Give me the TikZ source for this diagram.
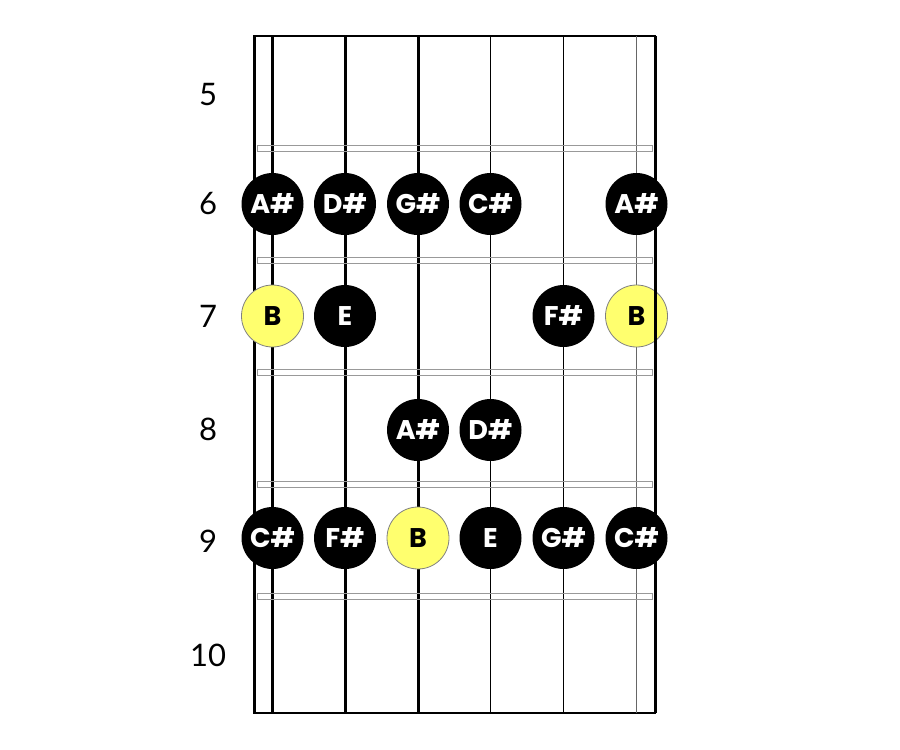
\documentclass[tikz,border=0pt]{standalone}
\usepackage{fontspec}
\newfontfamily\notefont{Poppins}
\newfontfamily\fretfont{Lato}
\usetikzlibrary{positioning}
\definecolor{rootyellow}{HTML}{FFFF6E}
\tikzstyle{note} = [circle, minimum size=31pt, inner sep=0pt, fill=black, text=white, font=\notefont\bfseries\fontsize{13.5}{13.5}\selectfont]
\tikzstyle{root} = [note, fill=rootyellow, draw=gray, line width=0.4pt, text=black]
\tikzstyle{fretnum} = [font=\fretfont\fontsize{15.5}{15.5}\selectfont, inner sep=0pt]
\tikzstyle{fretbar} = [draw=gray!80, line width=0.5pt]

\begin{document}
\begin{tikzpicture}[x=0.5pt, y=-0.5pt]
\useasboundingbox (0,0) rectangle (900,750);
%琴格框
\draw[line width=1.3pt] (655.5,36) -- (254.5,36) -- (254.5,713) -- (655.5,713);
%琴弦
\draw[line width=1.5pt] (272.5,36) -- (272.5,713);
\draw[line width=1.5pt] (345,36) -- (345,713);
\draw[line width=1.5pt] (418,36) -- (418,713);
\draw[line width=0.85pt] (490.5,36) -- (490.5,713);
\draw[line width=0.65pt] (563.5,36) -- (563.5,713);
\draw[line width=0.5pt, black!60] (636.5,36) -- (636.5,713);
%品丝
\draw[fretbar] (257,145) rectangle (652,151);
\draw[fretbar] (257,257) rectangle (652,263);
\draw[fretbar] (257,369) rectangle (652,375);
\draw[fretbar] (257,481) rectangle (652,487);
\draw[fretbar] (257,593) rectangle (652,599);
%品号
\node[fretnum] (f5) at (208,95) {5};
\node[fretnum] (f6) at (208,204) {6};
\node[fretnum] (f7) at (208,316) {7};
\node[fretnum] (f8) at (208,429) {8};
\node[fretnum] (f9) at (208,541) {9};
\node[fretnum] (f10) at (208,655) {10};
%第6品
\node[note] (n61) at (272.5,204) {A\#};
\node[note] (n62) at (345,204) {D\#};
\node[note] (n63) at (418,204) {G\#};
\node[note] (n64) at (490.5,204) {C\#};
%第7品
\node[root] (n71) at (272.5,316) {B};
\node[note] (n72) at (345,316) {E};
\node[note] (n75) at (563.5,316) {F\#};
\node[root] (n76) at (636.5,316) {B};
%第8品
\node[note] (n83) at (418,430) {A\#};
\node[note] (n84) at (490.5,430) {D\#};
%第9品
\node[note] (n91) at (272.5,538) {C\#};
\node[note] (n92) at (345,538) {F\#};
\node[root] (n93) at (418,538) {B};
\node[note] (n94) at (490.5,538) {E};
\node[note] (n95) at (563.5,538) {G\#};
%右边框
\draw[line width=1.3pt] (655.5,36) -- (655.5,713);
\node[note] (n66) at (636.5,204) {A\#};
\node[note] (n96) at (636.5,538) {C\#};
\end{tikzpicture}
\end{document}
